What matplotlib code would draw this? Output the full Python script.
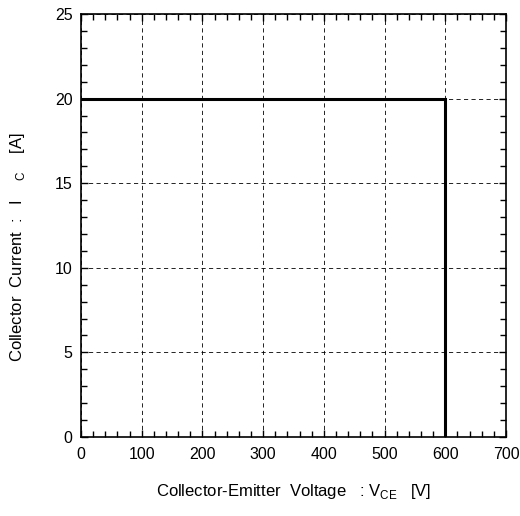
import matplotlib.pyplot as plt
from matplotlib.ticker import MultipleLocator

plt.rcParams['font.family'] = ['Liberation Sans', 'DejaVu Sans']
plt.rcParams['mathtext.fontset'] = 'custom'
plt.rcParams['mathtext.rm'] = 'Liberation Sans'

# safe operating area boundary
vce = [0, 600, 600]
ic = [20, 20, 0]

x_ticks = [0, 100, 200, 300, 400, 500, 600, 700]
y_ticks = [0, 5, 10, 15, 20, 25]

fig = plt.figure(figsize=(5.2, 5.16), dpi=100)
ax = fig.add_axes([0.1558, 0.1531, 0.8173, 0.8198])

ax.plot(vce, ic, color='black', linewidth=2.2, solid_joinstyle='miter')

ax.set_xlim(0, 700)
ax.set_ylim(0, 25)
ax.set_xticks(x_ticks)
ax.set_yticks(y_ticks)
ax.xaxis.set_minor_locator(MultipleLocator(20))
ax.yaxis.set_minor_locator(MultipleLocator(1))
ax.tick_params(which='both', direction='in', top=True, right=True, labelsize=11.5, color='black')
ax.tick_params(which='major', length=5, width=1)
ax.tick_params(which='minor', length=4, width=1)
ax.tick_params(axis='x', pad=7)
ax.tick_params(axis='y', pad=6)
ax.grid(True, which='major', linestyle=(0, (5, 4)), color='black', linewidth=0.6)
for s in ax.spines.values():
    s.set_linewidth(1.2)

ax.set_xlabel('Collector-Emitter  Voltage   : V$_{\\mathregular{CE}}$   [V]', fontsize=12, va='center')
ax.xaxis.set_label_coords(0.5, -0.128)
ax.set_ylabel('Collector  Current  :   I    $_{\\mathregular{C}}$    [A]', fontsize=12, va='center')
ax.yaxis.set_label_coords(-0.15, 0.448)

fig.savefig('out.png', dpi=100)
